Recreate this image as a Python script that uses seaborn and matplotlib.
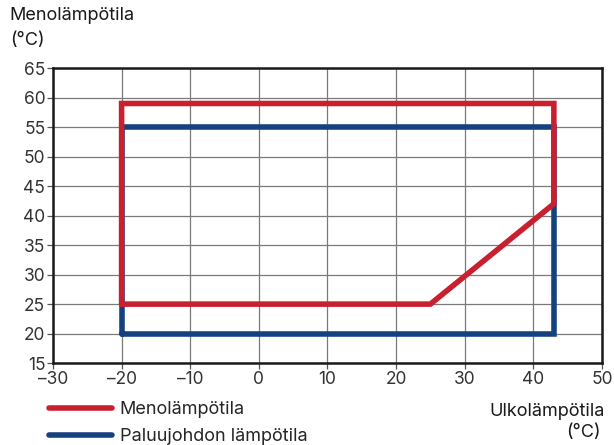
import matplotlib
matplotlib.use("Agg")
import matplotlib.pyplot as plt
import seaborn as sns
import pandas as pd

# Operating range outlines (outdoor temperature vs. water temperature)
supply_x = [-20, -20, 43, 43, 25, -20]
supply_y = [25, 59, 59, 42, 25, 25]
return_x = [-20, -20, 43, 43, -20]
return_y = [20, 55, 55, 20, 20]

supply_label = "Menolämpötila"
return_label = "Paluujohdon lämpötila"
x_ticks = [-30, -20, -10, 0, 10, 20, 30, 40, 50]
y_ticks = [15, 20, 25, 30, 35, 40, 45, 50, 55, 60, 65]

RED = "#c8202e"
BLUE = "#15427f"
TEXT = "#1a1a1a"

sns.set_theme(style="white")
plt.rcParams["font.family"] = ["Inter", "DejaVu Sans"]

fig = plt.figure(figsize=(6.14, 4.45), dpi=100)
ax = fig.add_axes([0.0863, 0.184, 0.894, 0.663])

df_ret = pd.DataFrame({"x": return_x, "y": return_y})
df_sup = pd.DataFrame({"x": supply_x, "y": supply_y})

sns.lineplot(data=df_ret, x="x", y="y", sort=False, estimator=None,
             color=BLUE, lw=3.6, ax=ax, label=return_label, zorder=3,
             solid_joinstyle="miter", solid_capstyle="butt")
sns.lineplot(data=df_sup, x="x", y="y", sort=False, estimator=None,
             color=RED, lw=3.6, ax=ax, label=supply_label, zorder=4,
             solid_joinstyle="miter", solid_capstyle="butt")

ax.set_xlim(-30, 50)
ax.set_ylim(15, 65)
ax.set_xticks(x_ticks)
ax.set_yticks(y_ticks)
ax.set_xticklabels(["\u2013" + str(-v) if v < 0 else str(v) for v in x_ticks])
ax.grid(True, color="#7a7a7a", lw=0.9)
ax.set_axisbelow(True)
for s in ax.spines.values():
    s.set_color(TEXT)
    s.set_linewidth(1.8)
ax.tick_params(axis="both", which="both", length=4, width=0.9, color="#555555",
               labelsize=12.5, labelcolor="#333333", pad=1.5,
               bottom=True, left=True)
ax.set_xlabel("")
ax.set_ylabel("")

handles, labels = ax.get_legend_handles_labels()
order = [labels.index(supply_label), labels.index(return_label)]
for h in handles:
    h.set_solid_capstyle("round")
    h.set_linewidth(4.0)
ax.legend([handles[i] for i in order], [labels[i] for i in order],
          loc="upper left", bbox_to_anchor=(0.08, 0.098),
          bbox_transform=fig.transFigure, frameon=False, fontsize=13,
          handlelength=3.5, handletextpad=0.4, labelspacing=0.55,
          borderaxespad=0, borderpad=0)

fig.text(0.016, 0.965, "Menolämpötila", fontsize=13, color=TEXT,
         ha="left", va="center")
fig.text(0.016, 0.91, "(°C)", fontsize=13, color=TEXT,
         ha="left", va="center")
fig.text(0.985, 0.076, "Ulkolämpötila", fontsize=13, color=TEXT,
         ha="right", va="center")
fig.text(0.978, 0.028, "(°C)", fontsize=13, color=TEXT,
         ha="right", va="center")

fig.savefig("out.png", dpi=100)
